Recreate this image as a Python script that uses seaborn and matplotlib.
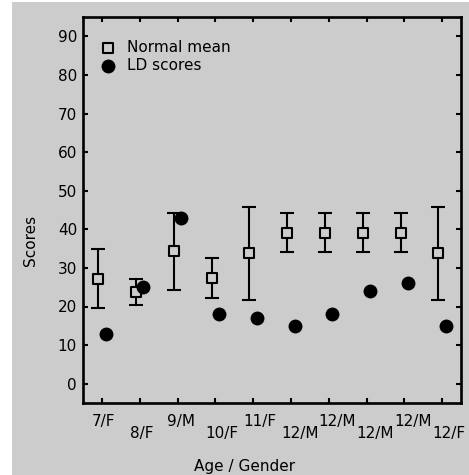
import numpy as np
import pandas as pd
import matplotlib
matplotlib.use("Agg")
import matplotlib.pyplot as plt
import matplotlib.transforms as mtransforms
from matplotlib.patches import Rectangle
import seaborn as sns

# ---- data ----
categories = ["7/F", "8/F", "9/M", "10/F", "11/F", "12/M", "12/M", "12/M", "12/M", "12/F"]
normal_mean = [27.2, 23.7, 34.3, 27.4, 33.8, 39.1, 39.1, 39.1, 39.1, 33.8]
normal_low = [19.5, 20.3, 24.4, 22.3, 21.8, 34.0, 34.0, 34.0, 34.0, 21.8]
normal_high = [34.9, 27.2, 44.3, 32.6, 45.7, 44.2, 44.2, 44.2, 44.2, 45.7]
ld_scores = [13, 25, 43, 18, 17, 15, 18, 24, 26, 15]
y_ticks = [0, 10, 20, 30, 40, 50, 60, 70, 80, 90]

GREY = "#cccccc"
W, H = 469, 475
sns.set_theme(style="ticks")
plt.rcParams["font.family"] = ["DejaVu Sans"]
plt.rcParams["text.color"] = "black"
plt.rcParams["axes.labelcolor"] = "black"
plt.rcParams["xtick.color"] = "black"
plt.rcParams["ytick.color"] = "black"

pos = np.arange(1, len(categories) + 1)
df = pd.DataFrame({
    "pos": pos,
    "cat": categories,
    "mean": normal_mean,
    "low": normal_low,
    "high": normal_high,
    "ld": ld_scores,
})
df["x_norm"] = df["pos"] - 0.1
df["x_ld"] = df["pos"] + 0.1

fig = plt.figure(figsize=(W / 100, H / 100), dpi=100, facecolor="white")
bg = Rectangle((12 / W, 0), 1 - 12 / W, 1 - 2 / H, transform=fig.transFigure,
               facecolor=GREY, edgecolor="none", zorder=-10)
fig.add_artist(bg)
ax = fig.add_axes([83 / W, (H - 403) / H, 378 / W, 386 / H])
ax.set_facecolor(GREY)

# error bars
yerr = np.vstack([df["mean"] - df["low"], df["high"] - df["mean"]])
ax.errorbar(df["x_norm"], df["mean"], yerr=yerr, fmt="none", ecolor="black",
            elinewidth=1.5, capsize=4.7, capthick=1.5, zorder=2)

sns.scatterplot(data=df, x="x_norm", y="mean", marker="s", s=52, color=GREY,
                edgecolor="black", linewidth=1.5, ax=ax, zorder=3, label="Normal mean")
sns.scatterplot(data=df, x="x_ld", y="ld", marker="o", s=100, color="black",
                edgecolor="black", linewidth=0, ax=ax, zorder=4, label="LD scores")

ax.set_xlim(0.5, 10.5)
ax.set_ylim(-5, 95)
ax.set_yticks(y_ticks)
ax.set_yticklabels([str(v) for v in y_ticks], fontsize=11, color="black")
ax.set_xticks(pos)
ax.set_xticklabels(categories, fontsize=11, color="black")

for sp in ax.spines.values():
    sp.set_visible(True)
    sp.set_linewidth(1.9)
    sp.set_color("black")
ax.tick_params(axis="both", which="major", direction="in", length=3.6, width=1.5,
               colors="black", top=True, right=True)
ax.tick_params(axis="y", pad=4.3)
ax.tick_params(axis="x", pad=8.0)

# stagger x tick labels and left-align them
for i, lab in enumerate(ax.get_xticklabels()):
    lab.set_ha("left")
    dy = 0 if i % 2 == 0 else -12
    off = mtransforms.ScaledTranslation(-10 / 100, dy / 100, fig.dpi_scale_trans)
    lab.set_transform(lab.get_transform() + off)

ax.set_xlabel("Age / Gender", fontsize=11, color="black")
ax.xaxis.set_label_coords((245 - 83) / 378, -0.145)
ax.set_ylabel("Scores", fontsize=11, color="black")
ax.yaxis.set_label_coords(-0.119, (403 - 240) / 386)

leg = ax.legend(loc="upper left", bbox_to_anchor=(0.046, 0.94), frameon=False,
                borderaxespad=0, handletextpad=0.72, labelspacing=0.2, fontsize=11,
                handlelength=1.0, borderpad=0)
for t in leg.get_texts():
    t.set_color("black")

fig.savefig("out.png", dpi=100, facecolor=fig.get_facecolor())
